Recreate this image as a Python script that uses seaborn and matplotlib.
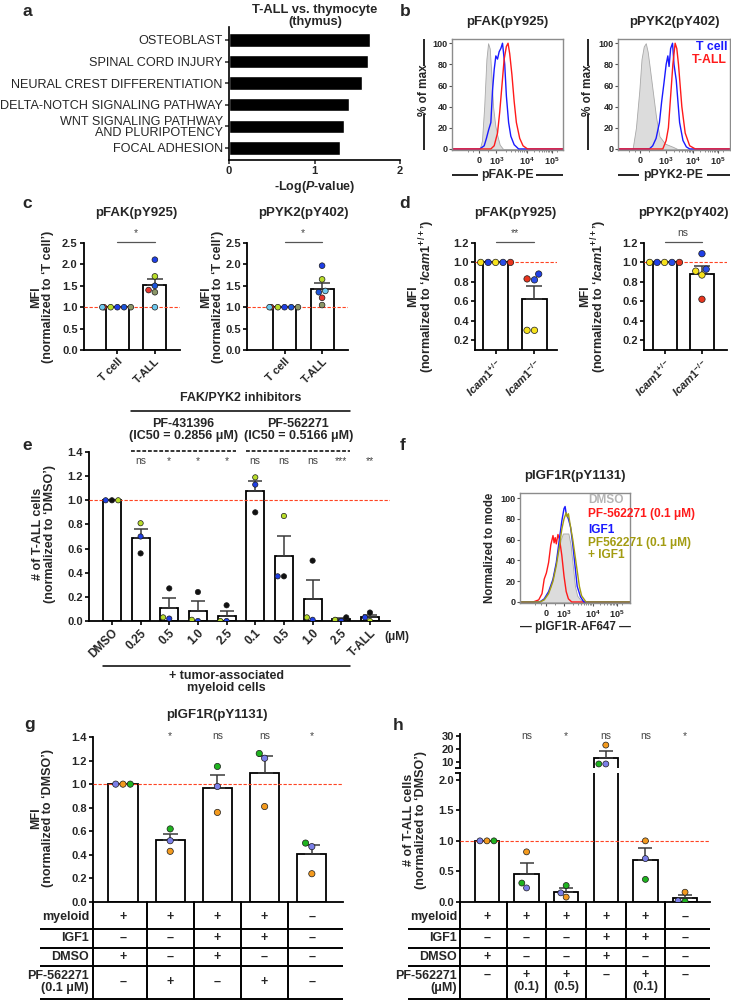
import numpy as np
import pandas as pd
import matplotlib
matplotlib.use("Agg")
import matplotlib.pyplot as plt
import matplotlib.transforms as mtrans
import seaborn as sns

W, H = 731, 1001

# ---------------- data ----------------
# a: pathway enrichment, T-ALL vs thymocyte
a_terms = ['OSTEOBLAST', 'SPINAL CORD INJURY', 'NEURAL CREST DIFFERENTIATION',
           'DELTA-NOTCH SIGNALING PATHWAY', 'WNT SIGNALING PATHWAY\nAND PLURIPOTENCY',
           'FOCAL ADHESION']
a_logp = [1.65, 1.62, 1.56, 1.40, 1.34, 1.30]

# b: flow histograms (x = position on biexponential axis, 0-1; y = % of max)
b_fak_iso_x = [0.0, 0.25, 0.27, 0.29, 0.31, 0.325, 0.34, 0.355, 0.37, 0.39, 0.41, 0.43, 0.46, 1.0]
b_fak_iso_y = [0, 0, 8, 40, 85, 100, 95, 70, 40, 22, 12, 4, 0, 0]
b_fak_tcell_x = [0.0, 0.25, 0.29, 0.31, 0.33, 0.35, 0.365, 0.38, 0.395, 0.41, 0.425, 0.44,
                 0.455, 0.465, 0.475, 0.49, 0.51, 0.53, 0.56, 0.6, 1.0]
b_fak_tcell_y = [0, 0, 3, 10, 18, 25, 55, 75, 88, 85, 92, 95, 100, 90, 80, 50, 25, 12, 4, 0, 0]
b_fak_tall_x = [0.0, 0.35, 0.38, 0.41, 0.43, 0.45, 0.47, 0.49, 0.505, 0.52, 0.54, 0.56,
                0.58, 0.61, 0.64, 0.68, 1.0]
b_fak_tall_y = [0, 0, 3, 15, 35, 60, 85, 97, 100, 90, 70, 45, 25, 10, 3, 0, 0]

b_pyk_iso_x = [0.0, 0.13, 0.16, 0.19, 0.21, 0.23, 0.248, 0.265, 0.28, 0.31, 0.34, 0.37,
               0.42, 0.49, 0.53, 1.0]
b_pyk_iso_y = [0, 0, 20, 55, 85, 97, 100, 92, 80, 55, 30, 12, 5, 2, 0, 0]
b_pyk_tcell_x = [0.0, 0.28, 0.31, 0.34, 0.37, 0.39, 0.41, 0.43, 0.445, 0.456, 0.47, 0.487,
                 0.5, 0.52, 0.55, 0.58, 0.61, 0.64, 1.0]
b_pyk_tcell_y = [0, 0, 3, 10, 25, 45, 62, 80, 88, 78, 95, 100, 80, 65, 25, 8, 2, 0, 0]
b_pyk_tall_x = [0.0, 0.40, 0.43, 0.45, 0.47, 0.49, 0.51, 0.525, 0.54, 0.57, 0.60, 0.64, 0.69, 1.0]
b_pyk_tall_y = [0, 0, 8, 20, 50, 80, 100, 95, 80, 40, 15, 3, 0, 0]

# c: MFI normalized to T cell (6 donors)
c_groups = ['T cell', 'T-ALL']
c_donors = ['c1', 'c2', 'c3', 'c4', 'c5', 'c6']
c_colors = ['#1f3fe6', '#b8dc2a', '#1c55dc', '#e8352e', '#8b9768', '#6ec8ee']
c_fak_tcell = [1.0, 1.0, 1.0, 1.0, 1.0, 1.0]
c_fak_tall = [2.11, 1.72, 1.50, 1.40, 1.35, 1.00]
c_pyk_tcell = [1.0, 1.0, 1.0, 1.0, 1.0, 1.0]
c_pyk_tall = [1.97, 1.65, 1.35, 1.22, 1.05, 1.38]

# d: MFI normalized to Icam1+/+ (5 mice)
d_groups = ['het', 'ko']
d_ticklabels = [r'$\it{Icam1}^{+/-}$', r'$\it{Icam1}^{-/-}$']
d_donors = ['m1', 'm2', 'm3', 'm4', 'm5']
d_colors = ['#f6e21c', '#1f3fe6', '#2a4ee8', '#f6e21c', '#e8351e']
d_fak_het = [1.0, 1.0, 1.0, 1.0, 1.0]
d_fak_ko = [0.30, 0.88, 0.82, 0.30, 0.83]
d_pyk_het = [1.0, 1.0, 1.0, 1.0, 1.0]
d_pyk_ko = [0.91, 1.09, 0.93, 0.87, 0.62]

# e: # of T-ALL cells with FAK/PYK2 inhibitors
e_conds = ['DMSO', 'A0.25', 'A0.5', 'A1.0', 'A2.5', 'B0.1', 'B0.5', 'B1.0', 'B2.5', 'T-ALL']
e_ticklabels = ['DMSO', '0.25', '0.5', '1.0', '2.5', '0.1', '0.5', '1.0', '2.5', 'T-ALL']
e_donors = ['black', 'blue', 'green']
e_colors = ['#111111', '#1f3fe6', '#b8dc2a']
e_black = [1.00, 0.56, 0.27, 0.24, 0.13, 0.90, 0.37, 0.50, 0.03, 0.07]
e_blue = [1.00, 0.70, 0.02, 0.00, 0.00, 1.13, 0.37, 0.01, 0.00, 0.03]
e_green = [1.00, 0.81, 0.03, 0.01, 0.00, 1.19, 0.87, 0.03, 0.01, 0.00]
e_sig = ['', 'ns', '*', '*', '*', 'ns', 'ns', 'ns', '***', '**']

# f: pIGF1R histograms
f_dmso_x = [0.0, 0.18, 0.22, 0.25, 0.28, 0.30, 0.33, 0.35, 0.37, 0.39, 0.42, 0.44, 0.46,
            0.48, 0.50, 0.52, 0.55, 0.60, 1.0]
f_dmso_y = [0, 0, 3, 8, 15, 25, 40, 50, 60, 66, 66, 66, 55, 35, 15, 6, 2, 0, 0]
f_pf_x = [0.0, 0.12, 0.17, 0.20, 0.22, 0.24, 0.26, 0.28, 0.30, 0.31, 0.32, 0.33, 0.345,
          0.36, 0.38, 0.40, 0.42, 0.44, 0.47, 1.0]
f_pf_y = [0, 0, 2, 8, 22, 28, 38, 55, 64, 57, 62, 56, 65, 60, 45, 25, 10, 3, 0, 0]
f_igf_x = [0.0, 0.18, 0.22, 0.26, 0.30, 0.33, 0.36, 0.38, 0.40, 0.41, 0.42, 0.44, 0.46,
           0.48, 0.50, 0.52, 0.55, 0.58, 1.0]
f_igf_y = [0, 0, 3, 10, 22, 38, 62, 78, 90, 92, 85, 80, 72, 55, 35, 15, 5, 0, 0]
f_pfigf_x = [0.0, 0.18, 0.22, 0.26, 0.30, 0.33, 0.36, 0.38, 0.40, 0.42, 0.43, 0.44, 0.46,
             0.48, 0.50, 0.52, 0.54, 0.56, 0.60, 1.0]
f_pfigf_y = [0, 0, 2, 8, 20, 35, 55, 70, 80, 86, 82, 85, 72, 60, 45, 30, 15, 6, 0, 0]

# g: pIGF1R MFI
g_conds = ['g1', 'g2', 'g3', 'g4', 'g5']
g_donors = ['orange', 'purple', 'green']
g_colors = ['#f39a1e', '#7b7fe8', '#1fb31f']
g_orange = [1.00, 0.43, 0.76, 0.81, 0.24]
g_purple = [1.00, 0.52, 0.98, 1.22, 0.47]
g_green = [1.00, 0.62, 1.15, 1.26, 0.50]
g_sig = ['', '*', 'ns', 'ns', '*']
g_myeloid = ['+', '+', '+', '+', '\u2013']
g_igf1 = ['\u2013', '\u2013', '+', '+', '\u2013']
g_dmso = ['+', '\u2013', '+', '\u2013', '\u2013']
g_pf = ['\u2013', '+', '\u2013', '+', '\u2013']

# h: # of T-ALL cells
h_conds = ['h1', 'h2', 'h3', 'h4', 'h5', 'h6']
h_orange = [1.00, 0.82, 0.08, 23.0, 1.00, 0.16]
h_purple = [1.00, 0.23, 0.15, 8.5, 0.71, 0.02]
h_green = [1.00, 0.31, 0.27, 8.5, 0.37, 0.01]
h_sig = ['', 'ns', '*', 'ns', 'ns', '*']
h_myeloid = ['+', '+', '+', '+', '+', '\u2013']
h_igf1 = ['\u2013', '\u2013', '\u2013', '+', '+', '\u2013']
h_dmso = ['+', '\u2013', '\u2013', '+', '\u2013', '\u2013']
h_pf = ['\u2013', '+\n(0.1)', '+\n(0.5)', '\u2013', '+\n(0.1)', '\u2013']

# ---------------- style ----------------
sns.set_theme(style='ticks')
plt.rcParams['font.family'] = ['Liberation Sans', 'DejaVu Sans']
plt.rcParams['font.weight'] = 'bold'
plt.rcParams['axes.labelweight'] = 'bold'
plt.rcParams['mathtext.fontset'] = 'custom'
plt.rcParams['mathtext.rm'] = 'Liberation Sans:bold'
plt.rcParams['mathtext.it'] = 'Liberation Sans:italic:bold'
plt.rcParams['mathtext.bf'] = 'Liberation Sans:bold'
plt.rcParams['mathtext.sf'] = 'Liberation Sans:bold'

RED_LINE = '#ff4422'
fig = plt.figure(figsize=(W / 100, H / 100), dpi=100)


def px_ax(x0, y0, x1, y1):
    ax = fig.add_axes([x0 / W, 1 - y1 / H, (x1 - x0) / W, (y1 - y0) / H])
    ax.set_facecolor('none')
    return ax


def group_df(groups, values, donors):
    rows = []
    for g, vals in zip(groups, values):
        for d, v in zip(donors, vals):
            rows.append({'cond': g, 'donor': d, 'val': v})
    return pd.DataFrame(rows)


def donor_df(conds, series, donors):
    rows = []
    for d, vals in zip(donors, series):
        for c, v in zip(conds, vals):
            rows.append({'cond': c, 'donor': d, 'val': v})
    return pd.DataFrame(rows)


def bar_panel(ax, df, order, palette, size, width, capsize, ref_line=True):
    sns.barplot(data=df, x='cond', y='val', order=order, errorbar=None, color='white',
                saturation=1, edgecolor='black', linewidth=1.3, width=width, ax=ax, zorder=2)
    st = df.groupby('cond')['val'].agg(['mean', 'sem']).reindex(order)
    xs = np.arange(len(order))
    ax.errorbar(xs, st['mean'].values, yerr=[np.zeros(len(xs)), st['sem'].values], fmt='none',
                ecolor='#3a3a3a', elinewidth=1.1, capsize=capsize, capthick=1.1, zorder=3)
    if ref_line:
        ax.axhline(1.0, color=RED_LINE, ls=(0, (3, 1.5)), lw=0.8, zorder=4)
    sns.swarmplot(data=df, x='cond', y='val', order=order, hue='donor', palette=palette,
                  size=size, edgecolor='#1a1a1a', linewidth=0.5, legend=False,
                  warn_thresh=1, ax=ax, zorder=5)


def style_bar_ax(ax, xlim, ylim, yticks):
    ax.set_xlim(*xlim)
    ax.set_ylim(*ylim)
    ax.set_yticks(yticks)
    sns.despine(ax=ax)
    for s in ['left', 'bottom']:
        ax.spines[s].set_linewidth(1.3)
        ax.spines[s].set_color('black')
    ax.tick_params(labelsize=8, width=1.2, length=3, pad=1.5, color='black')
    ax.set_xlabel('')
    ax.set_ylabel('')


def hist_ax(box, ticks):
    ax = px_ax(*box)
    ax.set_xlim(0, 1)
    ax.set_ylim(-1, 104)
    for s in ax.spines.values():
        s.set_color('#8c8c8c')
        s.set_linewidth(1)
    ax.set_yticks([0, 20, 40, 60, 80, 100])
    ax.tick_params(axis='y', labelsize=6.5, length=2, width=0.8, pad=1, color='#555555')
    ax.set_xticks(ticks)
    ax.set_xticklabels(['0', r'$10^3$', r'$10^4$', r'$10^5$'])
    ax.tick_params(axis='x', labelsize=6.5, length=2.5, width=0.8, pad=1.5, color='#555555')
    minors = []
    for a, b in zip(ticks[1:-1], ticks[2:]):
        minors += [a + (b - a) * np.log10(k) for k in range(2, 10)]
    minors += [ticks[0] - 0.05, ticks[0] - 0.1, ticks[0] + 0.08, ticks[-1] + 0.05]
    ax.set_xticks(minors, minor=True)
    ax.tick_params(axis='x', which='minor', length=1.5, width=0.6, color='#777777')
    return ax


# ---------------- a ----------------
ax_a = px_ax(229, 27, 400, 160)
sns.barplot(x=a_logp, y=a_terms, orient='h', color='black', saturation=1, width=0.62, ax=ax_a)
ax_a.set_xlim(0, 2)
ax_a.set_ylim(5.56, -0.6)
ax_a.set_xticks([0, 1, 2])
sns.despine(ax=ax_a)
for s in ['left', 'bottom']:
    ax_a.spines[s].set_linewidth(1.2)
    ax_a.spines[s].set_color('black')
ax_a.tick_params(axis='x', labelsize=8, width=1.1, length=3, pad=1.5)
ax_a.tick_params(axis='y', width=1.1, length=3, pad=1.5)
ax_a.set_yticks(range(len(a_terms)))
ax_a.set_yticklabels(a_terms, fontsize=9.05, fontweight='normal', linespacing=0.95)
ax_a.set_ylabel('')
ax_a.set_xlabel(r'-Log($\it{P}$-value)', fontsize=9, labelpad=2)

# ---------------- b ----------------
ax_b1 = hist_ax((452, 39, 563, 150), [0.24, 0.40, 0.675, 0.90])
ax_b1.fill_between(b_fak_iso_x, b_fak_iso_y, color='#dcdcdc', edgecolor='#a8a8a8', lw=0.6)
sns.lineplot(x=b_fak_tcell_x, y=b_fak_tcell_y, color='#1a1aff', lw=1, estimator=None, sort=False, ax=ax_b1)
sns.lineplot(x=b_fak_tall_x, y=b_fak_tall_y, color='#ff1a1a', lw=1, estimator=None, sort=False, ax=ax_b1)

ax_b2 = hist_ax((618, 39, 730, 150), [0.20, 0.427, 0.67, 0.89])
ax_b2.fill_between(b_pyk_iso_x, b_pyk_iso_y, color='#dcdcdc', edgecolor='#a8a8a8', lw=0.6)
sns.lineplot(x=b_pyk_tcell_x, y=b_pyk_tcell_y, color='#1a1aff', lw=1, estimator=None, sort=False, ax=ax_b2)
sns.lineplot(x=b_pyk_tall_x, y=b_pyk_tall_y, color='#ff1a1a', lw=1, estimator=None, sort=False, ax=ax_b2)
for ax in (ax_b1, ax_b2):
    ax.set_xlabel('')
    ax.set_ylabel('')

# ---------------- c ----------------
ax_c1 = px_ax(84, 243, 180, 350)
bar_panel(ax_c1, group_df(c_groups, [c_fak_tcell, c_fak_tall], c_donors), c_groups,
          dict(zip(c_donors, c_colors)), 4.1, 0.61, 6)
style_bar_ax(ax_c1, (-0.89, 1.67), (0, 2.5), [0, 0.5, 1.0, 1.5, 2.0, 2.5])

ax_c2 = px_ax(247, 243, 348, 350)
bar_panel(ax_c2, group_df(c_groups, [c_pyk_tcell, c_pyk_tall], c_donors), c_groups,
          dict(zip(c_donors, c_colors)), 4.1, 0.61, 6)
style_bar_ax(ax_c2, (-1.0, 1.69), (0, 2.5), [0, 0.5, 1.0, 1.5, 2.0, 2.5])
for ax in (ax_c1, ax_c2):
    ax.set_xticks([0, 1])
    ax.set_xticklabels(c_groups, rotation=45, ha='right', rotation_mode='anchor', fontsize=8)

# ---------------- d ----------------
ax_d1 = px_ax(475, 243, 557, 350)
bar_panel(ax_d1, group_df(d_groups, [d_fak_het, d_fak_ko], d_donors), d_groups,
          dict(zip(d_donors, d_colors)), 4.6, 0.64, 6)
style_bar_ax(ax_d1, (-0.53, 1.58), (0.097, 1.2), [0.2, 0.4, 0.6, 0.8, 1.0, 1.2])

ax_d2 = px_ax(644, 243, 727, 350)
bar_panel(ax_d2, group_df(d_groups, [d_pyk_het, d_pyk_ko], d_donors), d_groups,
          dict(zip(d_donors, d_colors)), 4.6, 0.64, 6)
style_bar_ax(ax_d2, (-0.55, 1.67), (0.097, 1.2), [0.2, 0.4, 0.6, 0.8, 1.0, 1.2])
for ax in (ax_d1, ax_d2):
    ax.set_xticks([0, 1])
    ax.set_xticklabels(d_ticklabels, rotation=45, ha='right', rotation_mode='anchor', fontsize=8)

# ---------------- e ----------------
ax_e = px_ax(89, 452, 390, 621)
bar_panel(ax_e, donor_df(e_conds, [e_black, e_blue, e_green], e_donors), e_conds,
          dict(zip(e_donors, e_colors)), 3.8, 0.63, 5)
style_bar_ax(ax_e, (-0.80, 9.70), (0, 1.4), [0, 0.2, 0.4, 0.6, 0.8, 1.0, 1.2, 1.4])
ax_e.set_xticks(range(len(e_conds)))
ax_e.set_xticklabels(e_ticklabels, rotation=45, ha='right', rotation_mode='anchor', fontsize=8.5)

# ---------------- f ----------------
ax_f = hist_ax((520, 493, 630, 603), [0.24, 0.40, 0.66, 0.88])
ax_f.set_ylim(-1, 105)
ax_f.fill_between(f_dmso_x, f_dmso_y, color='#dcdcdc', edgecolor='#a8a8a8', lw=0.6)
sns.lineplot(x=f_pf_x, y=f_pf_y, color='#ff1a1a', lw=1, estimator=None, sort=False, ax=ax_f)
sns.lineplot(x=f_igf_x, y=f_igf_y, color='#1a1aff', lw=1, estimator=None, sort=False, ax=ax_f)
sns.lineplot(x=f_pfigf_x, y=f_pfigf_y, color='#a39c12', lw=1, estimator=None, sort=False, ax=ax_f)
ax_f.set_xlabel('')
ax_f.set_ylabel('')

# ---------------- g ----------------
ax_g = px_ax(93, 737, 343, 902)
bar_panel(ax_g, donor_df(g_conds, [g_orange, g_purple, g_green], g_donors), g_conds,
          dict(zip(g_donors, g_colors)), 4.5, 0.62, 5.4)
style_bar_ax(ax_g, (-0.635, 4.66), (0, 1.4), [0, 0.2, 0.4, 0.6, 0.8, 1.0, 1.2, 1.4])
ax_g.set_xticks([])

# ---------------- h ----------------
h_df = donor_df(h_conds, [h_orange, h_purple, h_green], g_donors)
ax_h_top = px_ax(460, 734, 710, 768)
bar_panel(ax_h_top, h_df, h_conds, dict(zip(g_donors, g_colors)), 4.3, 0.62, 4.7, ref_line=False)
style_bar_ax(ax_h_top, (-0.68, 5.63), (5.4, 31.5), [10, 20, 30])
ax_h_top.spines['bottom'].set_visible(False)
ax_h_top.set_xticks([])

ax_h = px_ax(460, 773, 710, 902)
bar_panel(ax_h, h_df, h_conds, dict(zip(g_donors, g_colors)), 4.3, 0.62, 4.7)
style_bar_ax(ax_h, (-0.68, 5.63), (0, 2.11), [0, 0.5, 1.0, 1.5, 2.0])
ax_h.set_xticks([])

# ---------------- overlay: labels, annotations, tables ----------------
ov = fig.add_axes([0, 0, 1, 1], zorder=10)
ov.set_xlim(0, W)
ov.set_ylim(H, 0)
ov.axis('off')


def txt(x, y, s, size=9, **kw):
    kw.setdefault('ha', 'center')
    kw.setdefault('va', 'center')
    ov.text(x, y, s, fontsize=size, **kw)


def line(xs, ys, **kw):
    kw.setdefault('color', 'black')
    kw.setdefault('lw', 1.0)
    ov.plot(xs, ys, solid_capstyle='butt', **kw)


def blend(ax):
    return mtrans.blended_transform_factory(ax.transData, ov.transData)


# panel letters
for s, x, y in [('a', 27, 11), ('b', 405, 11), ('c', 27, 203), ('d', 405, 203),
                ('e', 27, 446), ('f', 403, 446), ('g', 30, 724), ('h', 398, 726)]:
    txt(x, y, s, size=12.5)

# a
txt(315, 16, 'T-ALL vs. thymocyte\n(thymus)', size=9.3, linespacing=0.95)

# b
txt(507, 22, 'pFAK(pY925)', size=9.5)
txt(674, 22, 'pPYK2(pY402)', size=9.5)
for x in (424, 588):
    txt(x, 90, '% of max', size=8.5, rotation=90)
    line([x, x], [39, 66], lw=1.2)
    line([x, x], [114, 150], lw=1.2)
txt(507, 175, 'pFAK-PE', size=8.8)
line([452, 478], [175, 175], lw=1.2)
line([536, 563], [175, 175], lw=1.2)
txt(673, 175, 'pPYK2-PE', size=8.8)
line([618, 639], [175, 175], lw=1.2)
line([707, 730], [175, 175], lw=1.2)
txt(727, 47, 'T cell', size=8.8, ha='right', color='#1a1aff')
txt(727, 60, 'T-ALL', size=8.8, ha='right', color='#ff1a1a')

# c / d titles, brackets, y labels
for ax, title, sig in [(ax_c1, 'pFAK(pY925)', '*'), (ax_c2, 'pPYK2(pY402)', '*'),
                       (ax_d1, 'pFAK(pY925)', '**'), (ax_d2, 'pPYK2(pY402)', 'ns')]:
    tr = blend(ax)
    ov.text(0.5, 213, title, transform=tr, fontsize=9.5, ha='center', va='center')
    ov.plot([0, 1], [242, 242], transform=tr, color='#555555', lw=0.9)
    ov.text(0.5, 233, sig, transform=tr, fontsize=7.5, fontweight='normal',
            color='#444444', ha='center', va='center')
for x in (42, 212):
    txt(x, 297, 'MFI\n(normalized to \u2018T cell\u2019)', size=9, rotation=90, linespacing=0.9)
for x in (422, 594):
    txt(x, 296, 'MFI\n(normalized to \u2018$\\it{Icam1}^{+/+}$\u2019)', size=9, rotation=90,
        linespacing=0.9)

# e annotations
tr = blend(ax_e)
ov.text(4.5, 398, 'FAK/PYK2 inhibitors', transform=tr, fontsize=9, ha='center', va='center')
ov.plot([0.68, 8.32], [411, 411], transform=tr, color='black', lw=1.1)
ov.text(2.5, 430, 'PF-431396\n(IC50 = 0.2856 \u03bcM)', transform=tr, fontsize=9,
        ha='center', va='center', linespacing=0.95)
ov.text(6.5, 430, 'PF-562271\n(IC50 = 0.5166 \u03bcM)', transform=tr, fontsize=9,
        ha='center', va='center', linespacing=0.95)
ov.plot([0.68, 4.32], [451, 451], transform=tr, color='black', lw=1.1, ls=(0, (2.5, 1.2)))
ov.plot([4.68, 8.32], [451, 451], transform=tr, color='black', lw=1.1, ls=(0, (2.5, 1.2)))
for i, s in enumerate(e_sig):
    ov.text(i, 461, s, transform=tr, fontsize=7.5, fontweight='normal', color='#444444',
            ha='center', va='center')
ov.plot([-0.32, 8.32], [666, 666], transform=tr, color='black', lw=1.1)
ov.text(4, 682, '+ tumor-associated\nmyeloid cells', transform=tr, fontsize=9,
        ha='center', va='center', linespacing=0.95)
txt(384, 637, '(\u03bcM)', size=8.5, ha='left')
txt(44, 534, '# of T-ALL cells\n(normalized to \u2018DMSO\u2019)', size=9, rotation=90, linespacing=0.9)

# f annotations
txt(575, 476, 'pIGF1R(pY1131)', size=9.5)
txt(490, 548, 'Normalized to mode', size=8.3, rotation=90)
txt(575, 627, '\u2014 pIGF1R-AF647 \u2014', size=8.5)
txt(588, 500, 'DMSO', size=8.6, ha='left', color='#b4b4b4')
txt(588, 514, 'PF-562271 (0.1 \u03bcM)', size=8.6, ha='left', color='#ff1a1a')
txt(588, 530, 'IGF1', size=8.6, ha='left', color='#1a1aff')
txt(588, 549, 'PF562271 (0.1 \u03bcM)\n+ IGF1', size=8.6, ha='left', color='#a39c12',
    linespacing=0.95)

# g annotations and table
txt(217, 715, 'pIGF1R(pY1131)', size=9.5)
txt(42, 818, 'MFI\n(normalized to \u2018DMSO\u2019)', size=9, rotation=90, linespacing=0.9)
tr = blend(ax_g)
for i, s in enumerate(g_sig):
    ov.text(i, 736, s, transform=tr, fontsize=7.5, fontweight='normal', color='#444444',
            ha='center', va='center')
for y in (929, 948, 966, 999):
    line([40, 343], [y, y], lw=1.4)
line([93, 93], [902, 999], lw=1.4)
for i in range(len(g_conds) - 1):
    ov.plot([i + 0.5, i + 0.5], [902, 999], transform=tr, color='black', lw=1.4)
for lab, vals, y in [('myeloid', g_myeloid, 917), ('IGF1', g_igf1, 938),
                     ('DMSO', g_dmso, 957), ('PF-562271\n(0.1 \u03bcM)', g_pf, 982)]:
    txt(89, y, lab, size=9, ha='right', linespacing=0.95)
    for i, v in enumerate(vals):
        ov.text(i, y, v, transform=tr, fontsize=9, ha='center', va='center')

# h annotations and table
txt(415, 820, '# of T-ALL cells\n(normalized to \u2018DMSO\u2019)', size=9, rotation=90, linespacing=0.9)
tr = blend(ax_h)
for i, s in enumerate(h_sig):
    ov.text(i, 736, s, transform=tr, fontsize=7.5, fontweight='normal', color='#444444',
            ha='center', va='center')
line([455, 461], [768, 768], lw=1.3)
line([455, 461], [773, 773], lw=1.3)
for y in (929, 948, 966, 999):
    line([408, 710], [y, y], lw=1.4)
line([460, 460], [902, 999], lw=1.4)
for i in range(len(h_conds) - 1):
    ov.plot([i + 0.5, i + 0.5], [902, 999], transform=tr, color='black', lw=1.4)
for lab, vals, y in [('myeloid', h_myeloid, 917), ('IGF1', h_igf1, 938), ('DMSO', h_dmso, 957)]:
    txt(457, y, lab, size=9, ha='right')
    for i, v in enumerate(vals):
        ov.text(i, y, v, transform=tr, fontsize=9, ha='center', va='center')
txt(457, 982, 'PF-562271\n(\u03bcM)', size=9, ha='right', linespacing=0.95)
for i, v in enumerate(h_pf):
    ov.text(i, 969, v, transform=tr, fontsize=9, ha='center', va='top', linespacing=0.95)

fig.savefig('out.png', dpi=100)
